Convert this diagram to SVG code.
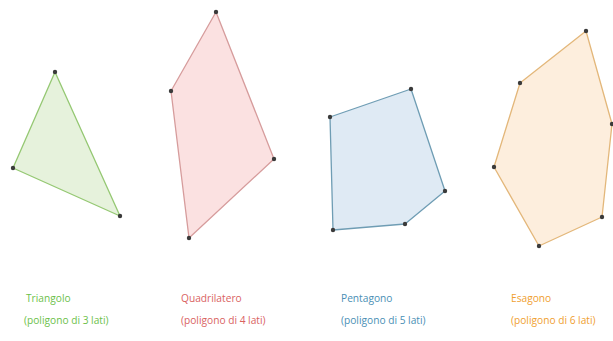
<svg xmlns="http://www.w3.org/2000/svg" width="613" height="341" viewBox="0 0 613 341">
<style>
.poly{stroke-width:1.3;stroke-linejoin:round}
.v{fill:#3a3a3a}
text{font-family:"Open Sans","Liberation Sans",sans-serif;font-size:10.2px}
.g{fill:#6cbf4a}.r{fill:#d9625f}.b{fill:#4a8fb5}.o{fill:#f0a030}
</style>
<rect width="613" height="341" fill="#ffffff"/>
<g id="triangolo">
<polygon class="poly" points="55,72 13,168 120,216" fill="#e6f2dc" stroke="#95c873"/>
<circle class="v" cx="55" cy="72" r="2.2"/><circle class="v" cx="13" cy="168" r="2.2"/><circle class="v" cx="120" cy="216" r="2.2"/>
<text class="g" x="26" y="302">Triangolo</text>
<text class="g" x="24" y="324">(poligono di 3 lati)</text>
</g>
<g id="quadrilatero">
<polygon class="poly" points="216,12 171,91 189,238 274,159" fill="#fbe1e1" stroke="#d69c9c"/>
<circle class="v" cx="216" cy="12" r="2.2"/><circle class="v" cx="171" cy="91" r="2.2"/><circle class="v" cx="189" cy="238" r="2.2"/><circle class="v" cx="274" cy="159" r="2.2"/>
<text class="r" x="181" y="302">Quadrilatero</text>
<text class="r" x="181" y="324">(poligono di 4 lati)</text>
</g>
<g id="pentagono">
<polygon class="poly" points="330,117 411,89 445,191 405,224 333,230" fill="#dfeaf4" stroke="#6f9db4"/>
<circle class="v" cx="330" cy="117" r="2.2"/><circle class="v" cx="411" cy="89" r="2.2"/><circle class="v" cx="445" cy="191" r="2.2"/><circle class="v" cx="405" cy="224" r="2.2"/><circle class="v" cx="333" cy="230" r="2.2"/>
<text class="b" x="341" y="302">Pentagono</text>
<text class="b" x="341" y="324">(poligono di 5 lati)</text>
</g>
<g id="esagono">
<polygon class="poly" points="586,31 520,83 494,167 539,246 602,217 612,124" fill="#fdeedd" stroke="#e3b77a"/>
<circle class="v" cx="586" cy="31" r="2.2"/><circle class="v" cx="520" cy="83" r="2.2"/><circle class="v" cx="494" cy="167" r="2.2"/><circle class="v" cx="539" cy="246" r="2.2"/><circle class="v" cx="602" cy="217" r="2.2"/><circle class="v" cx="612" cy="124" r="2.2"/>
<text class="o" x="511" y="302">Esagono</text>
<text class="o" x="511" y="324">(poligono di 6 lati)</text>
</g>
<g id="connectors"/>
</svg>
